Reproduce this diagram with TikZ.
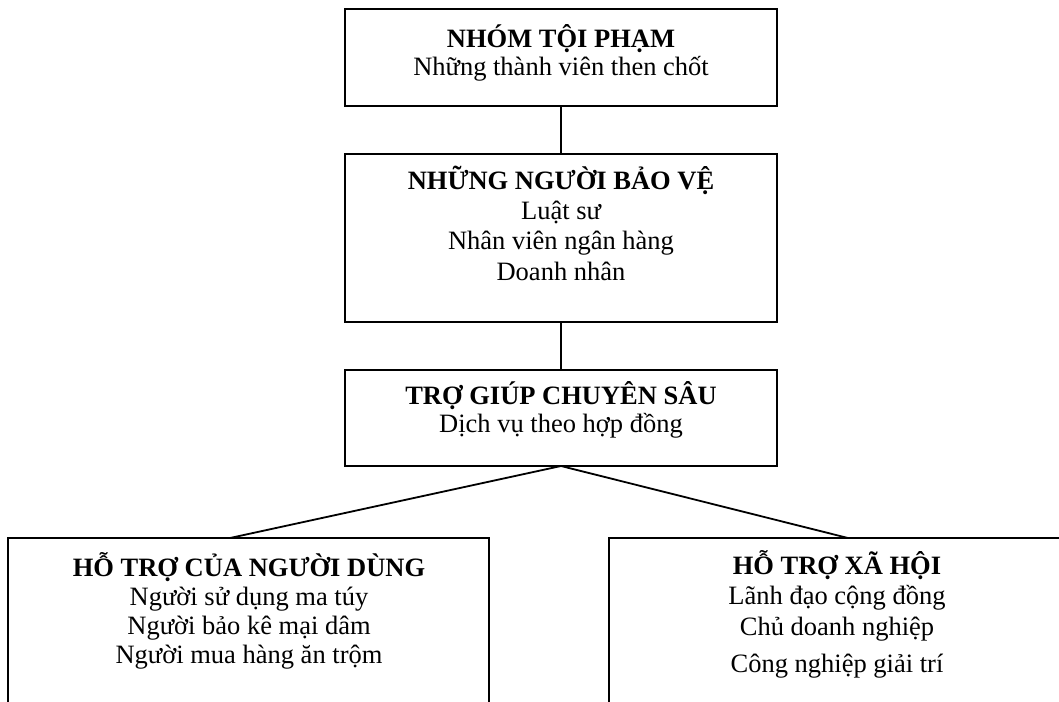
\documentclass[tikz,border=0pt]{standalone}
\usepackage{fontspec}
\setmainfont{Liberation Serif}
\begin{document}
\begin{tikzpicture}[x=1pt,y=-1pt,
  box/.style={draw, line width=2pt, inner sep=0pt, outer sep=0pt},
  link/.style={line width=1.8pt},
  txt/.style={anchor=base, align=center, inner sep=0pt}]
\useasboundingbox (0,0) rectangle (1059,701);
% boxes
\node[box, minimum width=432pt, minimum height=97pt] (b1) at (561,57.5) {};
\node[box, minimum width=432pt, minimum height=168pt] (b2) at (561,238) {};
\node[box, minimum width=432pt, minimum height=96pt] (b3) at (561,418) {};
\node[box, minimum width=481pt, minimum height=182pt] (bl) at (248.5,629) {};
\node[box, minimum width=461pt, minimum height=182pt] (br) at (839.5,629) {};
% texts (base anchor = baseline of last line)
\node[txt, font=\fontsize{26.5}{28}\selectfont] (t1) at (561,75.5)
  {\textbf{NHÓM TỘI PHẠM}\\Những thành viên then chốt};
\node[txt, font=\fontsize{26.5}{30.3}\selectfont] (t2) at (561,280)
  {\textbf{NHỮNG NGƯỜI BẢO VỆ}\\Luật sư\\Nhân viên ngân hàng\\Doanh nhân};
\node[txt, font=\fontsize{26.5}{28}\selectfont] (t3) at (561,432)
  {\textbf{TRỢ GIÚP CHUYÊN SÂU}\\Dịch vụ theo hợp đồng};
\node[txt, font=\fontsize{26.5}{29}\selectfont] (tl) at (249,663)
  {\textbf{HỖ TRỢ CỦA NGƯỜI DÙNG}\\Người sử dụng ma túy\\Người bảo kê mại dâm\\Người mua hàng ăn trộm};
\node[txt, font=\fontsize{26.5}{30.5}\selectfont] (tr) at (837,672)
  {\textbf{HỖ TRỢ XÃ HỘI}\\Lãnh đạo cộng đồng\\Chủ doanh nghiệp\\[6.5pt]Công nghiệp giải trí};
% connectors
\coordinate (lt) at (230,538);
\coordinate (rt) at (848,538);
\draw[link] (b1.south) -- (b2.north);
\draw[link] (b2.south) -- (b3.north);
\draw[link] (b3.south) -- (lt);
\draw[link] (b3.south) -- (rt);
\end{tikzpicture}
\end{document}
